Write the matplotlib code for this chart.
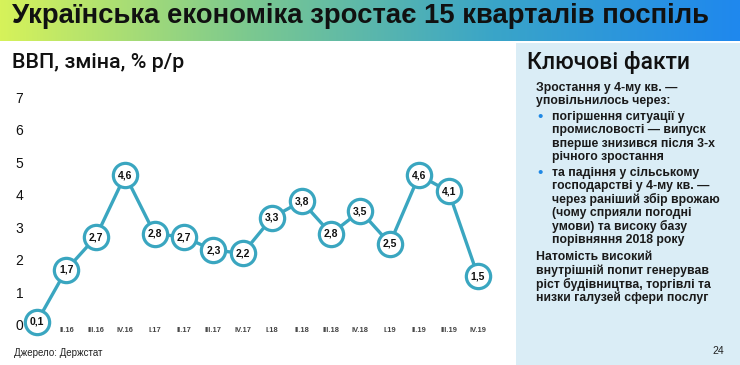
import numpy as np
import matplotlib
matplotlib.use("Agg")
import matplotlib.pyplot as plt
from matplotlib.colors import LinearSegmentedColormap
from matplotlib.patches import Rectangle

plt.rcParams['font.family'] = ['Liberation Sans', 'DejaVu Sans']

quarters = ["I.16", "II.16", "III.16", "IV.16", "I.17", "II.17", "III.17", "IV.17",
            "I.18", "II.18", "III.18", "IV.18", "I.19", "II.19", "III.19", "IV.19"]
gdp_change = [0.1, 1.7, 2.7, 4.6, 2.8, 2.7, 2.3, 2.2, 3.3, 3.8, 2.8, 3.5, 2.5, 4.6, 4.1, 1.5]
y_ticks = [0, 1, 2, 3, 4, 5, 6, 7]

title = "Українська економіка зростає 15 кварталів поспіль"
subtitle = "ВВП, зміна, % р/р"
panel_title = "Ключові факти"
source = "Джерело: Держстат"
page = "24"
intro_lines = ["Зростання у 4-му кв. —", "уповільнилось через:"]
bullet1_lines = ["погіршення ситуації у", "промисловості — випуск",
                 "вперше знизився після 3-х", "річного зростання"]
bullet2_lines = ["та падіння у сільському", "господарстві у 4-му кв. —",
                 "через раніший збір врожаю", "(чому сприяли погодні",
                 "умови) та високу базу", "порівняння 2018 року"]
outro_lines = ["Натомість високий", "внутрішній попит генерував",
               "ріст будівництва, торгівлі та", "низки галузей сфери послуг"]

W, H = 740, 365
fig = plt.figure(figsize=(W / 100, H / 100), dpi=100)
fig.patch.set_facecolor("white")

def fx(px):
    return px / W

def fy(py):
    return 1 - py / H

# Banner gradient
bax = fig.add_axes([0, fy(41), 1, 41 / H])
cmap = LinearSegmentedColormap.from_list("banner", ["#d6f25a", "#7cc98f", "#3aa5c8", "#1f88ee"])
bax.imshow(np.linspace(0, 1, 256)[None, :], aspect="auto", cmap=cmap, extent=[0, 1, 0, 1])
bax.set_xlim(0, 1)
bax.set_ylim(0, 1)
bax.axis("off")
fig.text(fx(12), fy(16), title, fontsize=19.8, fontweight="bold", color="#111111",
         va="center", ha="left")

# Right panel
fig.patches.append(Rectangle((fx(516), 0), 1 - fx(516), fy(43), transform=fig.transFigure,
                             facecolor="#daedf6", edgecolor="none", zorder=0))

fig.text(fx(527), fy(62), panel_title, fontsize=16.5, fontweight="medium",
         family=["Roboto", "DejaVu Sans"], color="#111111", va="center", ha="left")

panel_color = "#1a1a1a"
fs = 8.8

def lines_at(lines, xpx, ystart, step=13.3):
    for i, t in enumerate(lines):
        fig.text(fx(xpx), fy(ystart + i * step), t, fontsize=fs, fontweight="bold",
                 color=panel_color, va="center", ha="left")

lines_at(intro_lines, 536, 88)
lines_at(bullet1_lines, 552, 117)
lines_at(bullet2_lines, 552, 173)
lines_at(outro_lines, 536, 257.5)
for yb in (117, 173):
    fig.text(fx(540), fy(yb), "•", fontsize=11, color="#1e88e5", va="center", ha="center")

fig.text(fx(12), fy(62), subtitle, fontsize=15.4, fontweight="medium",
         family=["Roboto", "DejaVu Sans"], color="#111111", va="center", ha="left")
fig.text(fx(14), fy(353), source, fontsize=7, color="#222222", va="center", ha="left")
fig.text(fx(724), fy(351), page, fontsize=7.5, color="#222222", va="center", ha="right")

# Chart
ax_left, ax_right = 30, 500
ax_bottom, ax_top = 330, 90
ax = fig.add_axes([fx(ax_left), fy(ax_bottom), (ax_right - ax_left) / W, (ax_bottom - ax_top) / H])
ax.set_facecolor("none")
x0_px, x15_px = 37, 478
dx = (x15_px - x0_px) / 15
y0_px, unit = 325, (325 - 97) / 7
ax.set_xlim(-(x0_px - ax_left) / dx, 15 + (ax_right - x15_px) / dx)
ax.set_ylim(-(ax_bottom - y0_px) / unit, (y0_px - ax_top) / unit)

x = np.arange(len(quarters))
teal = "#3aa6c0"
ax.plot(x, gdp_change, color=teal, lw=2.4, zorder=2, clip_on=False)
ax.plot(x, gdp_change, "o", ms=17.5, mfc="white", mec=teal, mew=2.3, zorder=3, clip_on=False)
for xi, v in zip(x, gdp_change):
    ax.text(xi, v, f"{v:.1f}".replace(".", ","), fontsize=7.5, fontweight="bold",
            color="#111111", ha="center", va="center", zorder=4)

ax.set_xticks(x)
ax.set_xticklabels(quarters, fontsize=5.4, fontweight="bold", color="#444444")
ax.set_yticks(y_ticks)
ax.set_yticklabels([str(t) for t in y_ticks], fontsize=10, color="#111111")
ax.tick_params(axis="x", length=0, pad=-2.5)
for lbl in ax.get_yticklabels():
    lbl.set_horizontalalignment("center")
ax.tick_params(axis="y", length=0, pad=7.5)
for s in ax.spines.values():
    s.set_visible(False)

fig.savefig("out.png", dpi=100, facecolor="white")
